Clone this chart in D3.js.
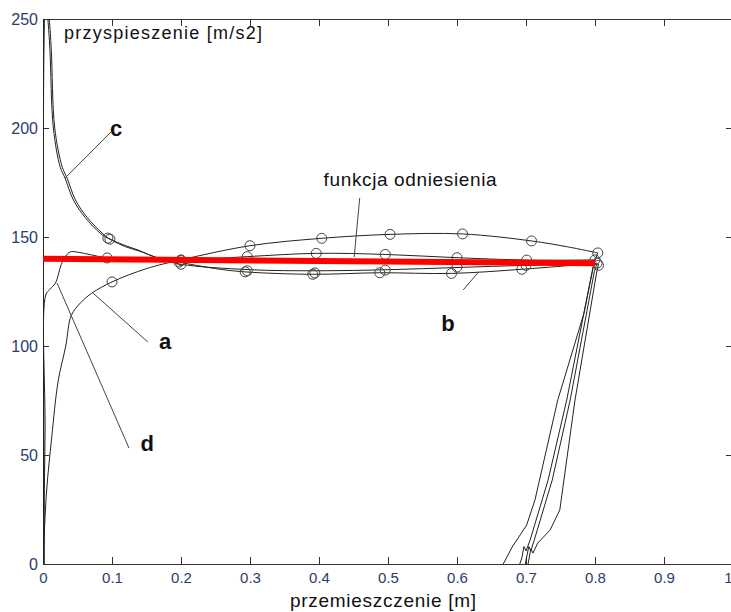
<!DOCTYPE html>
<html>
<head>
<meta charset="utf-8">
<script src="https://cdn.jsdelivr.net/npm/d3@7"></script>
<style>
  body { margin: 0; background: #fff; }
  svg { display: block; font-family: "Liberation Sans", Arial, sans-serif; }
</style>
</head>
<body>
<svg id="chart" width="731" height="612"></svg>
<script>
// ticks
const xTicks = [0, 0.1, 0.2, 0.3, 0.4, 0.5, 0.6, 0.7, 0.8, 0.9, 1];
const xTickLabels = ["0", "0.1", "0.2", "0.3", "0.4", "0.5", "0.6", "0.7", "0.8", "0.9", "1"];
const yTicks = [0, 50, 100, 150, 200, 250];
const yTickLabels = ["0", "50", "100", "150", "200", "250"];

// reference function (red)
const reference = [[0, 140], [0.8, 138]];

// curves [displacement m, acceleration m/s2] - smooth part
const curveA = [[0,0],[0.005,32.5],[0.0126,58],[0.022,84],[0.033,100],[0.041,114],[0.055,120],[0.071,124.3],
  [0.1,129.4],[0.15,135.5],[0.2,139.5],[0.3,146],[0.404,149.4],[0.503,151.2],[0.608,151.4],[0.708,148.2],
  [0.76,145.5],[0.804,142.7]];
const curveD = [[0,0],[0.003,60],[0.004,123.4],[0.01,126],[0.018,128.9],[0.028,138.5],[0.039,143.1],[0.051,143],
  [0.07,141.8],[0.093,140.4],[0.15,139.8],[0.2,139.2],[0.296,141],[0.396,142.5],[0.496,142],[0.6,140.5],
  [0.701,139.4],[0.8,139.5]];
const curveC = [[0.001,0],[0.003,262],[0.007,250],[0.010,236],[0.015,200],[0.025,182],[0.032,177],[0.044,167],
  [0.061,159],[0.083,151.7],[0.094,149.5],[0.12,146],[0.138,144],[0.165,140.5],[0.197,138.5],[0.25,135.5],
  [0.293,134],[0.391,132.9],[0.488,133.6],[0.592,133.3],[0.694,135.2],[0.803,138]];
const curveB = [[0.002,0],[0.004,262],[0.009,250],[0.012,236],[0.017,200],[0.028,182],[0.035,177],[0.047,167],
  [0.064,159],[0.086,151.7],[0.097,149],[0.12,145.5],[0.14,143.5],[0.17,140],[0.2,137.5],[0.3,135],[0.4,134.5],
  [0.5,135],[0.6,136],[0.7,137],[0.805,137.5]];

// braking drops at the end of each run
const dropA = [[0.804,142.7],[0.799,138.5],[0.784,115],[0.746,75.2],[0.713,29.4],[0.701,17.9],[0.68,7.8],[0.667,0]];
const dropD = [[0.8,139.5],[0.797,136],[0.759,75.2],[0.732,38.5],[0.706,11],[0.7,6],[0.697,8],[0.694,2.8],[0.691,0]];
const dropC = [[0.803,138],[0.799,134],[0.764,75.2],[0.738,38.5],[0.712,11],[0.707,6],[0.704,8],[0.699,0]];
const dropB = [[0.805,137.5],[0.802,133],[0.771,75.2],[0.749,24.8],[0.735,15.6],[0.717,9.6],[0.71,5],[0.707,7],[0.703,0]];

// circle markers
const markersA = [[0.1,129.4],[0.2,139.5],[0.3,146],[0.404,149.4],[0.503,151.2],[0.608,151.4],[0.708,148.2],[0.804,142.7]];
const markersD = [[0.093,140.4],[0.2,139.2],[0.296,141],[0.396,142.5],[0.496,142],[0.6,140.5],[0.701,139.4],[0.8,139.5]];
const markersC = [[0.094,149.5],[0.197,138.5],[0.293,134],[0.391,132.9],[0.488,133.6],[0.592,133.3],[0.694,135.2],[0.803,138]];
const markersB = [[0.097,149],[0.2,137.5],[0.296,134.5],[0.394,133.5],[0.496,134.8],[0.6,136.2],[0.7,137],[0.805,137]];

// annotation labels and pointers
const labels = [
  {text: "c", pos: [0.106, 200], from: [0.0986, 198.2], to: [0.0319, 177]},
  {text: "a", pos: [0.177, 102.3], from: [0.152, 101.8], to: [0.0725, 124.3]},
  {text: "d", pos: [0.151, 55.5], from: [0.1246, 53.2], to: [0.0203, 128.9]},
  {text: "b", pos: [0.587, 110.6], from: [0.609, 125.7], to: [0.630, 133.5]}
];
const refLabel = {text: "funkcja odniesienia", pos: [0.532, 176.5], from: [0.459, 167.9], to: [0.451, 140.8]};

const svg = d3.select("#chart");
const mLeft = 43, mRight = 733, mTop = 19, mBottom = 564;

const x = d3.scaleLinear().domain([0, 1]).range([mLeft, mRight]);
const y = d3.scaleLinear().domain([0, 250]).range([mBottom, mTop]);

svg.append("defs").append("clipPath").attr("id", "plotclip")
  .append("rect").attr("x", mLeft).attr("y", mTop).attr("width", mRight - mLeft).attr("height", mBottom - mTop);

const labelColor = "#2a3c6e";
const axisColor = "#333";

function styleAxis(g, size) {
  g.select(".domain").attr("stroke", axisColor);
  g.selectAll(".tick line").attr("stroke", axisColor);
  g.selectAll(".tick text").attr("fill", labelColor).style("font-size", size + "px")
    .style("font-family", "'Liberation Sans', Arial, sans-serif");
}

// bottom axis
const xAxisG = svg.append("g")
  .attr("transform", "translate(0," + mBottom + ")")
  .call(d3.axisBottom(x).tickValues(xTicks).tickFormat((d, i) => xTickLabels[i]).tickSizeInner(-7).tickSizeOuter(0).tickPadding(8))
  .call(styleAxis, 15);
// last label sits on the window edge: keep it inside
xAxisG.selectAll(".tick text").filter(d => d === 1).attr("text-anchor", "end").attr("x", -1);

// left axis
svg.append("g")
  .attr("transform", "translate(" + mLeft + ",0)")
  .call(d3.axisLeft(y).tickValues(yTicks).tickFormat((d, i) => yTickLabels[i]).tickSizeInner(-6).tickSizeOuter(0).tickPadding(5))
  .call(styleAxis, 16);

// top axis (ticks only)
svg.append("g")
  .attr("transform", "translate(0," + mTop + ")")
  .call(d3.axisTop(x).tickValues(xTicks).tickFormat("").tickSizeInner(-7).tickSizeOuter(0))
  .call(styleAxis, 15);

// right axis (ticks only)
svg.append("g")
  .attr("transform", "translate(" + mRight + ",0)")
  .call(d3.axisRight(y).tickValues(yTicks).tickFormat("").tickSizeInner(-7).tickSizeOuter(0))
  .call(styleAxis, 15);

const plot = svg.append("g").attr("clip-path", "url(#plotclip)");

const smooth = d3.line()
  .x(d => x(d[0]))
  .y(d => y(d[1]))
  .curve(d3.curveCatmullRom.alpha(0.5));
const straight = d3.line()
  .x(d => x(d[0]))
  .y(d => y(d[1]));

[curveA, curveD, curveC, curveB].forEach(c => {
  plot.append("path")
    .datum(c)
    .attr("d", smooth)
    .attr("fill", "none")
    .attr("stroke", "#222")
    .attr("stroke-width", 1);
});

[dropA, dropD, dropC, dropB].forEach(c => {
  plot.append("path")
    .datum(c)
    .attr("d", straight)
    .attr("fill", "none")
    .attr("stroke", "#222")
    .attr("stroke-width", 1);
});

[markersA, markersD, markersC, markersB].forEach(m => {
  plot.selectAll(null)
    .data(m)
    .enter()
    .append("circle")
    .attr("cx", d => x(d[0]))
    .attr("cy", d => y(d[1]))
    .attr("r", 5)
    .attr("fill", "none")
    .attr("stroke", "#444")
    .attr("stroke-width", 1);
});

// red reference line
plot.append("path")
  .datum(reference)
  .attr("d", straight)
  .attr("stroke", "#ff0000")
  .attr("stroke-width", 6)
  .attr("fill", "none");

// pointers
labels.concat([refLabel]).forEach(l => {
  svg.append("line")
    .attr("x1", x(l.from[0])).attr("y1", y(l.from[1]))
    .attr("x2", x(l.to[0])).attr("y2", y(l.to[1]))
    .attr("stroke", "#444")
    .attr("stroke-width", 1);
});

labels.forEach(l => {
  svg.append("text")
    .attr("x", x(l.pos[0]))
    .attr("y", y(l.pos[1]))
    .attr("text-anchor", "middle")
    .attr("dy", "0.35em")
    .style("font-size", "22px")
    .style("font-weight", "bold")
    .attr("fill", "#111")
    .text(l.text);
});

svg.append("text")
  .attr("x", x(refLabel.pos[0]))
  .attr("y", y(refLabel.pos[1]))
  .attr("text-anchor", "middle")
  .attr("dy", "0.35em")
  .style("font-size", "19px")
  .attr("textLength", 173)
  .attr("fill", "#111")
  .text(refLabel.text);

// axis titles
svg.append("text")
  .attr("x", 64)
  .attr("y", 39)
  .style("font-size", "18px")
  .attr("textLength", 198)
  .attr("fill", "#111")
  .text("przyspieszenie [m/s2]");

svg.append("text")
  .attr("x", 290)
  .attr("y", 607)
  .style("font-size", "19px")
  .attr("textLength", 186)
  .attr("fill", "#111")
  .text("przemieszczenie [m]");
</script>
</body>
</html>
